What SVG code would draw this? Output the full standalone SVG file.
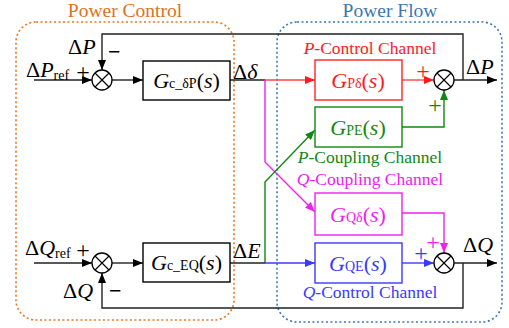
<svg xmlns="http://www.w3.org/2000/svg" width="509" height="328" viewBox="0 0 509 328" font-family="'Liberation Serif', 'Times New Roman', serif">
<style>
text{font-family:"Liberation Serif","Times New Roman",serif;}
.lbl{font-size:22px;}
.it{font-style:italic;}
.sub{font-size:14px;}
.ch{font-size:17.5px;}
.ttl{font-size:19.5px;text-anchor:middle;}
.pl{font-size:24px;text-anchor:middle;}
.blk{fill:#fff;stroke-width:1.4;}
.w{fill:none;stroke-width:1.4;}
.k{stroke:#222;}
.sum{fill:#fff;stroke:#000;stroke-width:1.3;}
</style>
<defs>
<marker id="ak" markerWidth="10" markerHeight="8" refX="10" refY="4" orient="auto" markerUnits="userSpaceOnUse"><path d="M0,0 L10,4 L0,8 z" fill="#000"/></marker>
<marker id="ar" markerWidth="10" markerHeight="8" refX="10" refY="4" orient="auto" markerUnits="userSpaceOnUse"><path d="M0,0 L10,4 L0,8 z" fill="#ff1a1a"/></marker>
<marker id="ag" markerWidth="10" markerHeight="8" refX="10" refY="4" orient="auto" markerUnits="userSpaceOnUse"><path d="M0,0 L10,4 L0,8 z" fill="#118811"/></marker>
<marker id="am" markerWidth="10" markerHeight="8" refX="10" refY="4" orient="auto" markerUnits="userSpaceOnUse"><path d="M0,0 L10,4 L0,8 z" fill="#ee22ee"/></marker>
<marker id="ab" markerWidth="10" markerHeight="8" refX="10" refY="4" orient="auto" markerUnits="userSpaceOnUse"><path d="M0,0 L10,4 L0,8 z" fill="#3a3aff"/></marker>
</defs>
<rect width="509" height="328" fill="#fff"/>
<g id="power-control">
<rect x="16" y="22" width="218" height="298" rx="20" fill="none" stroke="#e87722" stroke-width="1.6" stroke-dasharray="2,2.5"/>
<text class="ttl" x="125" y="17" fill="#e07020">Power Control</text>
</g>
<g id="power-flow">
<rect x="277" y="22" width="225" height="300" rx="20" fill="none" stroke="#3a78b5" stroke-width="1.6" stroke-dasharray="2,2.5"/>
<text class="ttl" x="390" y="17" fill="#3a78b5">Power Flow</text>
</g>
<g id="connectors">
<path class="w k" d="M34 80 H92" marker-end="url(#ak)"/>
<path class="w k" d="M112 80 H143" marker-end="url(#ak)"/>
<path class="w k" d="M463 80 V34 H102 V70" marker-end="url(#ak)"/>
<path class="w k" d="M454 80 H497" marker-end="url(#ak)"/>
<path class="w k" d="M230 80 H265"/>
<path class="w" stroke="#ff4444" d="M265 80 H315" marker-end="url(#ar)"/>
<path class="w" stroke="#ff4444" d="M402 80 H434" marker-end="url(#ar)"/>
<path class="w" stroke="#ee22ee" stroke-width="1.2" d="M265 80 V162 L315 212" marker-end="url(#am)"/>
<path class="w" stroke="#118811" stroke-width="1.2" d="M265 263 V182 L315 130" marker-end="url(#ag)"/>
<path class="w" stroke="#118811" d="M402 127 H444 V90" marker-end="url(#ag)"/>
<path class="w" stroke="#ee22ee" d="M402 213 H444 V253" marker-end="url(#am)"/>
<path class="w k" d="M34 263 H92" marker-end="url(#ak)"/>
<path class="w k" d="M112 263 H143" marker-end="url(#ak)"/>
<path class="w k" d="M230 263 H265"/>
<path class="w" stroke="#3a3aff" d="M265 263 H315" marker-end="url(#ab)"/>
<path class="w" stroke="#3a3aff" d="M402 263 H434" marker-end="url(#ab)"/>
<path class="w k" d="M454 263 H497" marker-end="url(#ak)"/>
<path class="w k" d="M463 263 V308 H102 V273" marker-end="url(#ak)"/>
</g>
<g id="sum1"><circle class="sum" cx="102" cy="80" r="10"/><path d="M95 73 L109 87 M109 73 L95 87" stroke="#000" stroke-width="1.2"/></g>
<g id="sum2"><circle class="sum" cx="444" cy="80" r="10"/><path d="M437 73 L451 87 M451 73 L437 87" stroke="#000" stroke-width="1.2"/></g>
<g id="sum3"><circle class="sum" cx="102" cy="263" r="10"/><path d="M95 256 L109 270 M109 256 L95 270" stroke="#000" stroke-width="1.2"/></g>
<g id="sum4"><circle class="sum" cx="444" cy="263" r="10"/><path d="M437 256 L451 270 M451 256 L437 270" stroke="#000" stroke-width="1.2"/></g>
<g id="gc-dp">
<rect class="blk" x="143" y="61" width="87" height="39" stroke="#000"/>
<text class="lbl" x="186.5" y="88" text-anchor="middle"><tspan class="it">G</tspan><tspan class="sub">c_δP</tspan>(<tspan class="it">s</tspan>)</text>
</g>
<g id="gc-eq">
<rect class="blk" x="143" y="243" width="87" height="39" stroke="#000"/>
<text class="lbl" x="186.5" y="270" text-anchor="middle"><tspan class="it">G</tspan><tspan class="sub">c_EQ</tspan>(<tspan class="it">s</tspan>)</text>
</g>
<g id="gpd">
<rect class="blk" x="315" y="60" width="87" height="40" stroke="#ff2222"/>
<text class="lbl" x="358" y="88" text-anchor="middle" fill="#ff1a1a"><tspan class="it">G</tspan><tspan class="sub">Pδ</tspan>(<tspan class="it">s</tspan>)</text>
</g>
<g id="gpe">
<rect class="blk" x="315" y="107" width="87" height="40" stroke="#118811"/>
<text class="lbl" x="358" y="135" text-anchor="middle" fill="#118811"><tspan class="it">G</tspan><tspan class="sub">PE</tspan>(<tspan class="it">s</tspan>)</text>
</g>
<g id="gqd">
<rect class="blk" x="315" y="193" width="87" height="42" stroke="#ee22ee"/>
<text class="lbl" x="358" y="222" text-anchor="middle" fill="#ee22ee"><tspan class="it">G</tspan><tspan class="sub">Qδ</tspan>(<tspan class="it">s</tspan>)</text>
</g>
<g id="gqe">
<rect class="blk" x="315" y="243" width="87" height="40" stroke="#3a3aff"/>
<text class="lbl" x="358" y="271" text-anchor="middle" fill="#3a3aff"><tspan class="it">G</tspan><tspan class="sub">QE</tspan>(<tspan class="it">s</tspan>)</text>
</g>
<g id="labels">
<text class="lbl" x="68" y="54">Δ<tspan class="it">P</tspan></text>
<text class="lbl" x="108" y="59" font-weight="bold" font-size="24px">−</text>
<text class="lbl" x="26" y="77">Δ<tspan class="it">P</tspan><tspan class="sub" font-size="16px" dy="3">ref</tspan></text>
<text class="pl" x="83" y="80">+</text>
<text class="lbl" x="233" y="79">Δ<tspan class="it">δ</tspan></text>
<text class="lbl" x="466" y="74">Δ<tspan class="it">P</tspan></text>
<text class="ch" x="370" y="54" text-anchor="middle" fill="#ff1a1a"><tspan class="it">P</tspan>-Control Channel</text>
<text class="ch" x="370" y="163" text-anchor="middle" fill="#118811"><tspan class="it">P</tspan>-Coupling Channel</text>
<text class="ch" x="370" y="185" text-anchor="middle" fill="#ee22ee"><tspan class="it">Q</tspan>-Coupling Channel</text>
<text class="ch" x="370" y="298" text-anchor="middle" fill="#3a3aff"><tspan class="it">Q</tspan>-Control Channel</text>
<text class="pl" x="423" y="79" fill="#ff1a1a">+</text>
<text class="pl" x="435" y="113" fill="#118811">+</text>
<text class="pl" x="433" y="250" fill="#ee22ee">+</text>
<text class="pl" x="421" y="261" fill="#3a3aff">+</text>
<text class="lbl" x="463" y="252">Δ<tspan class="it">Q</tspan></text>
<text class="lbl" x="233" y="258">Δ<tspan class="it">E</tspan></text>
<text class="lbl" x="25" y="255">Δ<tspan class="it">Q</tspan><tspan class="sub" font-size="16px" dy="3">ref</tspan></text>
<text class="pl" x="83" y="258">+</text>
<text class="lbl" x="63" y="298">Δ<tspan class="it">Q</tspan></text>
<text class="lbl" x="109" y="298" font-weight="bold" font-size="24px">−</text>
</g>
</svg>
